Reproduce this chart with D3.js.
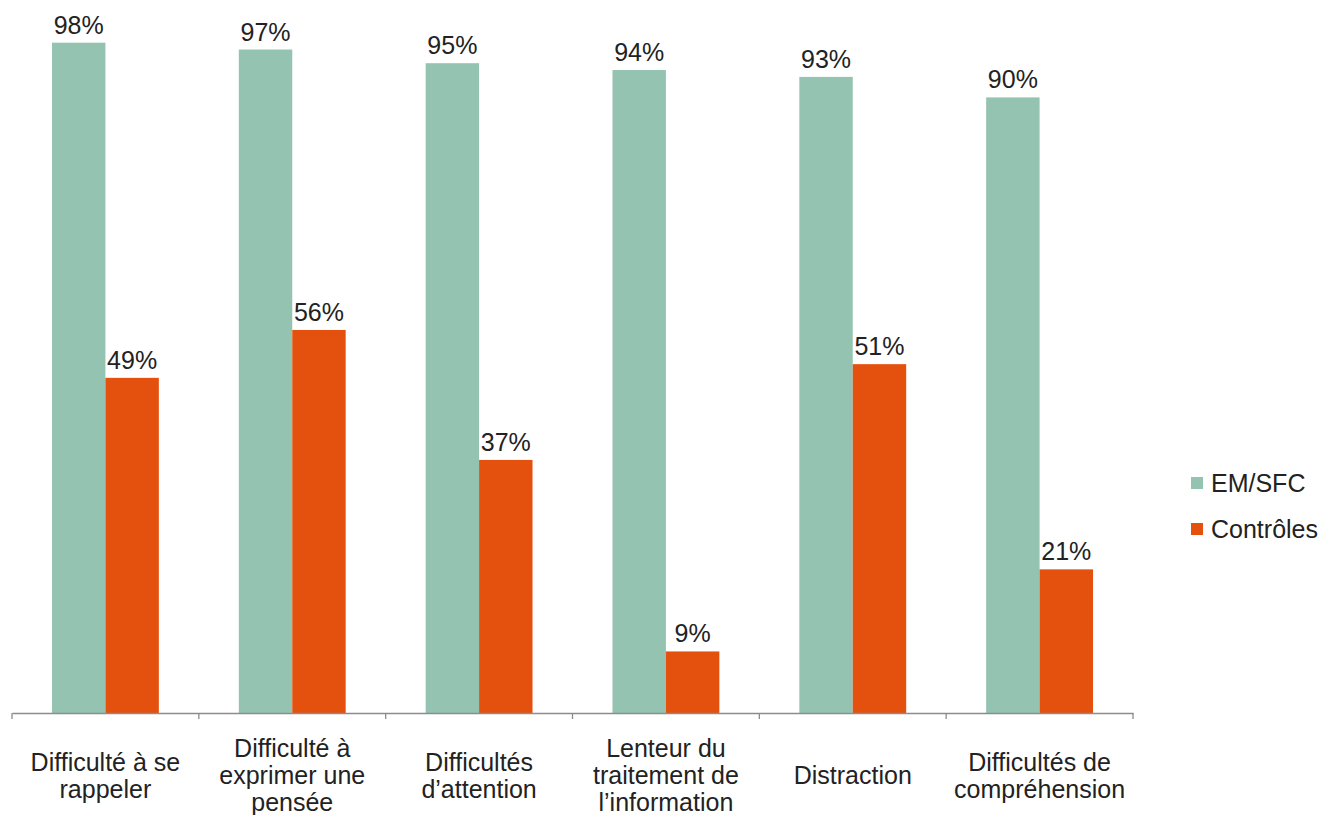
<!DOCTYPE html>
<html><head><meta charset="utf-8">
<script src="https://cdn.jsdelivr.net/npm/d3@7"></script>
<style>body{margin:0;background:#fff}svg{display:block}text{font-family:"Liberation Sans",Arial,sans-serif;fill:#222}</style>
</head><body><svg id="c" width="1323" height="815"></svg>
<script>
const categories = ["Difficulté à se\nrappeler","Difficulté à\nexprimer une\npensée","Difficultés\nd’attention","Lenteur du\ntraitement de\nl’information","Distraction","Difficultés de\ncompréhension"];
const seriesNames = ["EM/SFC","Contrôles"];
const emValues = [98,97,95,94,93,90];
const ctrlValues = [49,56,37,9,51,21];
const colors = ["#94C4B1","#E4510E"];

const svg = d3.select("#c");
const x0 = d3.scaleBand().domain(categories).range([12,1133]).padding(0);
const bw = x0.bandwidth();
const x1 = d3.scaleBand().domain(seriesNames).range([bw*0.214,bw*0.786]).padding(0);
const y = d3.scaleLinear().domain([0,100]).range([713,29]);
const data = categories.map((c,i)=>({cat:c, vals:[emValues[i],ctrlValues[i]]}));

const g = svg.append("g");
const grp = g.selectAll("g.grp").data(data).join("g").attr("transform",d=>`translate(${x0(d.cat)},0)`);
grp.selectAll("rect").data(d=>d.vals.map((v,j)=>({s:seriesNames[j],v,j}))).join("rect")
  .attr("x",d=>x1(d.s)).attr("width",x1.bandwidth())
  .attr("y",d=>y(d.v)).attr("height",d=>y(0)-y(d.v)).attr("fill",d=>colors[d.j]);
grp.selectAll("text.val").data(d=>d.vals.map((v,j)=>({s:seriesNames[j],v,j}))).join("text")
  .attr("class","val").attr("x",d=>x1(d.s)+x1.bandwidth()/2).attr("y",d=>y(d.v)-9)
  .attr("text-anchor","middle").style("font-size","25px").text(d=>d.v+"%");

// axis
const ax = svg.append("g").attr("transform",`translate(0,${y(0)})`)
  .call(d3.axisBottom(x0).tickSize(0).tickFormat(""));
ax.select(".domain").attr("stroke","#8c8c8c").attr("stroke-width",1.3);
const tickPos = categories.map(c=>x0(c)).concat([x0(categories[categories.length-1])+bw]);
ax.selectAll("line.tk").data(tickPos).join("line").attr("class","tk")
  .attr("x1",d=>d).attr("x2",d=>d).attr("y1",0).attr("y2",6).attr("stroke","#8c8c8c").attr("stroke-width",1.3);

// category labels
const lab = svg.append("g").selectAll("text.cat").data(categories).join("text")
  .attr("class","cat").attr("text-anchor","middle").style("font-size","25px");
lab.each(function(c){
  const lines = c.split("\n");
  const t = d3.select(this);
  const cx = x0(c)+bw/2;
  const start = 784 - (lines.length-1)*27/2;
  lines.forEach((l,i)=>t.append("tspan").attr("x",cx).attr("y",start+i*27).text(l));
});

// legend
const leg = svg.append("g").selectAll("g").data(seriesNames).join("g")
  .attr("transform",(d,i)=>`translate(1191,${477+i*46})`);
leg.append("rect").attr("width",12).attr("height",12).attr("fill",(d,i)=>colors[i]);
leg.append("text").attr("x",20).attr("y",15).style("font-size","25px").text(d=>d);
</script></body></html>
